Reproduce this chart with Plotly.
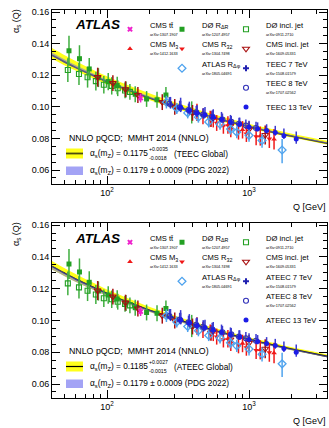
import math
import plotly.graph_objects as go

FONT = "Liberation Sans, Arial, Helvetica, sans-serif"

# ---------------- theory curves ----------------
curve_q = [41, 50, 60, 75, 91.19, 110, 140, 180, 240, 320, 450, 650, 900, 1300, 1800, 2500, 3550]
teec_fit = [0.1327, 0.1286, 0.1250, 0.1209, 0.1175, 0.1144, 0.1107, 0.1071, 0.1032, 0.0996, 0.0956, 0.0917, 0.0885, 0.0851, 0.0823, 0.0797, 0.0770]
teec_fit_hi = [0.1372, 0.1328, 0.1290, 0.1246, 0.1210, 0.1177, 0.1138, 0.1100, 0.1059, 0.1021, 0.0979, 0.0938, 0.0905, 0.0869, 0.0840, 0.0813, 0.0785]
teec_fit_lo = [0.1304, 0.1264, 0.1230, 0.1190, 0.1157, 0.1127, 0.1091, 0.1056, 0.1018, 0.0983, 0.0944, 0.0906, 0.0875, 0.0842, 0.0814, 0.0789, 0.0762]
ateec_fit = [0.1340, 0.1298, 0.1261, 0.1220, 0.1185, 0.1153, 0.1116, 0.1079, 0.1040, 0.1003, 0.0963, 0.0923, 0.0891, 0.0856, 0.0828, 0.0802, 0.0774]
ateec_fit_hi = [0.1374, 0.1330, 0.1292, 0.1249, 0.1212, 0.1179, 0.1140, 0.1101, 0.1061, 0.1022, 0.0981, 0.0939, 0.0906, 0.0870, 0.0841, 0.0814, 0.0786]
ateec_fit_lo = [0.1321, 0.1280, 0.1244, 0.1204, 0.1170, 0.1139, 0.1103, 0.1067, 0.1028, 0.0992, 0.0953, 0.0914, 0.0882, 0.0848, 0.0821, 0.0795, 0.0768]
pdg_hi = [0.1344, 0.1302, 0.1265, 0.1223, 0.1188, 0.1156, 0.1119, 0.1082, 0.1042, 0.1005, 0.0965, 0.0925, 0.0892, 0.0858, 0.0829, 0.0803, 0.0776]
pdg_lo = [0.1321, 0.1280, 0.1244, 0.1204, 0.1170, 0.1139, 0.1103, 0.1067, 0.1028, 0.0992, 0.0953, 0.0914, 0.0882, 0.0848, 0.0821, 0.0795, 0.0768]

# ---------------- measurements ----------------
cms_tt_q = [172.5]
cms_tt_a = [0.1056]
cms_tt_e = [0.0028]

cms_m3_q = [430, 560, 710, 900, 1200, 1500]
cms_m3_a = [0.0965, 0.0925, 0.0885, 0.0855, 0.0815, 0.0795]
cms_m3_e = [0.0055, 0.0055, 0.0055, 0.0055, 0.0060, 0.0065]

d0_rdr_q = [54, 64, 75, 87, 102, 118, 136, 158, 190, 225, 260, 395]
d0_rdr_a = [0.1355, 0.1305, 0.1240, 0.1185, 0.1160, 0.1135, 0.1110, 0.1080, 0.1050, 0.1045, 0.1075, 0.0965]
d0_rdr_e = [0.0095, 0.0085, 0.0070, 0.0060, 0.0055, 0.0055, 0.0050, 0.0050, 0.0050, 0.0050, 0.0050, 0.0070]

d0_incl_q = [53, 63.5, 73, 83.5, 95, 108, 119, 134, 145]
d0_incl_a = [0.1233, 0.1208, 0.1187, 0.1163, 0.1140, 0.1133, 0.1118, 0.1104, 0.1095]
d0_incl_e = [0.0075, 0.0070, 0.0065, 0.0060, 0.0055, 0.0055, 0.0050, 0.0050, 0.0050]

cms_r32_q = [474, 533, 592, 660, 744, 843, 958, 1122, 1390]
cms_r32_a = [0.0940, 0.0925, 0.0898, 0.0880, 0.0858, 0.0845, 0.0830, 0.0812, 0.0798]
cms_r32_e = [0.0050, 0.0050, 0.0050, 0.0050, 0.0050, 0.0052, 0.0052, 0.0055, 0.0058]

cms_incl_q = [86, 110, 135, 165, 245, 300, 400, 540, 740, 1000, 1300]
cms_incl_a = [0.1188, 0.1150, 0.1112, 0.1075, 0.1030, 0.1000, 0.0962, 0.0922, 0.0880, 0.0858, 0.0822]
cms_incl_e = [0.0060, 0.0050, 0.0050, 0.0050, 0.0050, 0.0050, 0.0050, 0.0050, 0.0050, 0.0050, 0.0060]

atlas_rdphi_q = [262, 310, 370, 440, 520, 625, 740, 820, 1000, 1235, 1710]
atlas_rdphi_a = [0.1030, 0.0990, 0.0962, 0.0935, 0.0905, 0.0890, 0.0860, 0.0840, 0.0820, 0.0787, 0.0727]
atlas_rdphi_eu = [0.0040, 0.0035, 0.0035, 0.0035, 0.0035, 0.0035, 0.0035, 0.0038, 0.0040, 0.0042, 0.0069]
atlas_rdphi_ed = [0.0040, 0.0035, 0.0035, 0.0035, 0.0035, 0.0035, 0.0035, 0.0038, 0.0040, 0.0045, 0.0083]

teec7_q = [280, 330, 380, 430, 480, 560]
teec7_a = [0.1015, 0.0992, 0.0978, 0.0960, 0.0948, 0.0930]
teec7_eu = [0.0048, 0.0046, 0.0045, 0.0044, 0.0043, 0.0042]
teec7_ed = [0.0026, 0.0025, 0.0025, 0.0024, 0.0024, 0.0023]

teec8_q = [275, 325, 375, 425, 475, 550, 650, 750, 850, 950, 1120]
teec8_a = [0.1020, 0.0998, 0.0980, 0.0965, 0.0952, 0.0938, 0.0920, 0.0905, 0.0893, 0.0882, 0.0866]
teec8_eu = [0.0042, 0.0041, 0.0040, 0.0040, 0.0039, 0.0039, 0.0038, 0.0038, 0.0038, 0.0038, 0.0040]
teec8_ed = [0.0022, 0.0022, 0.0021, 0.0021, 0.0020, 0.0020, 0.0020, 0.0020, 0.0020, 0.0021, 0.0022]

teec13_q = [330, 380, 430, 490, 560, 640, 740, 860, 1000, 1150, 1330, 1530, 1760, 2150]
teec13_a = [0.0998, 0.0978, 0.0962, 0.0950, 0.0937, 0.0922, 0.0905, 0.0890, 0.0873, 0.0862, 0.0850, 0.0838, 0.0818, 0.0796]
teec13_eu = [0.0060, 0.0055, 0.0050, 0.0050, 0.0048, 0.0046, 0.0044, 0.0042, 0.0040, 0.0040, 0.0040, 0.0042, 0.0045, 0.0048]
teec13_ed = [0.0025, 0.0025, 0.0022, 0.0020, 0.0020, 0.0020, 0.0020, 0.0019, 0.0018, 0.0018, 0.0018, 0.0020, 0.0022, 0.0029]

ateec7_q = [280, 330, 380, 430, 480, 560]
ateec7_a = [0.1022, 0.1000, 0.0982, 0.0968, 0.0955, 0.0935]
ateec7_eu = [0.0050, 0.0048, 0.0047, 0.0046, 0.0045, 0.0044]
ateec7_ed = [0.0026, 0.0025, 0.0025, 0.0024, 0.0024, 0.0023]

ateec8_q = [275, 325, 375, 425, 475, 550, 650, 750, 850, 950, 1120]
ateec8_a = [0.1028, 0.1005, 0.0988, 0.0972, 0.0960, 0.0944, 0.0926, 0.0912, 0.0898, 0.0888, 0.0872]
ateec8_eu = [0.0044, 0.0043, 0.0042, 0.0042, 0.0041, 0.0041, 0.0040, 0.0040, 0.0040, 0.0040, 0.0042]
ateec8_ed = [0.0022, 0.0022, 0.0021, 0.0021, 0.0020, 0.0020, 0.0020, 0.0020, 0.0020, 0.0021, 0.0022]

ateec13_q = [330, 380, 430, 490, 560, 640, 740, 860, 1000, 1150, 1330, 1530, 1760, 2150]
ateec13_a = [0.1005, 0.0985, 0.0968, 0.0955, 0.0942, 0.0928, 0.0912, 0.0896, 0.0880, 0.0868, 0.0855, 0.0842, 0.0823, 0.0800]
ateec13_eu = [0.0060, 0.0055, 0.0050, 0.0050, 0.0048, 0.0046, 0.0044, 0.0042, 0.0040, 0.0040, 0.0040, 0.0042, 0.0045, 0.0048]
ateec13_ed = [0.0025, 0.0025, 0.0022, 0.0020, 0.0020, 0.0020, 0.0020, 0.0019, 0.0018, 0.0018, 0.0018, 0.0020, 0.0022, 0.0029]

# ---------------- axis ticks ----------------
x_major = [100, 1000]
x_major_text = ["10<sup>2</sup>", "10<sup>3</sup>"]
x_minor = [50, 60, 70, 80, 90, 200, 300, 400, 500, 600, 700, 800, 900, 2000, 3000]
q_range = [41, 3540]
a_range = [0.0512, 0.1613]

# ---------------- layout helpers (pixel -> paper) ----------------
W, H = 329, 428
ML, MR, MT, MB = 52, 2, 10, 30
PW, PH = W - ML - MR, H - MT - MB


def px(x):
    return (x - ML) / PW


def py(y):
    return (H - MB - y) / PH


TOP0, TOP1 = 10, 184      # top panel frame (pixels)
BOT0, BOT1 = 223, 398     # bottom panel frame (pixels)

fig = go.Figure()


def band(xa, ya, lo, hi, color):
    fig.add_trace(go.Scatter(x=curve_q, y=lo, mode="lines", line=dict(width=0, color=color, shape="spline"),
                             xaxis=xa, yaxis=ya, showlegend=False, hoverinfo="skip"))
    fig.add_trace(go.Scatter(x=curve_q, y=hi, mode="lines", line=dict(width=0, color=color, shape="spline"),
                             fill="tonexty", fillcolor=color, xaxis=xa, yaxis=ya, showlegend=False,
                             hoverinfo="skip"))


def series(q, a, eu, ed, name, sym, color, ecolor, size, xa, ya, leg, lw=0):
    fig.add_trace(go.Scatter(
        x=q, y=a, mode="markers", name=name, legend=leg, xaxis=xa, yaxis=ya,
        marker=dict(symbol=sym, size=size, color=color, line=dict(width=lw, color=color)),
        error_y=dict(type="data", array=eu, arrayminus=ed, symmetric=False, color=ecolor,
                     thickness=1.5, width=0)))


def lname(title, arxiv=None):
    s = "<span style='font-size:7.6px'>" + title + "</span>"
    if arxiv:
        s += "<br><span style='font-size:3.8px'>arXiv:" + arxiv + "</span>"
    return s


GREEN = "#23a023"
GREEN_E = "#3fae3f"
RED = "#f01818"
DRED = "#a81010"
MAG = "#ee22cc"
LBLUE = "#4fa3ee"
BLUE7 = "#2020b0"
BLUE8 = "#3030b8"
BLUE13 = "#1c1ce6"
BLUE_E = "#3a3ad0"

panels = [
    dict(xa="x", ya="y", fit=teec_fit, hi=teec_fit_hi, lo=teec_fit_lo, line="#3c3c10",
         legs=("legend", "legend2", "legend3"), tag="TEEC",
         e7=(teec7_q, teec7_a, teec7_eu, teec7_ed), e8=(teec8_q, teec8_a, teec8_eu, teec8_ed),
         e13=(teec13_q, teec13_a, teec13_eu, teec13_ed)),
    dict(xa="x2", ya="y2", fit=ateec_fit, hi=ateec_fit_hi, lo=ateec_fit_lo, line="#101010",
         legs=("legend4", "legend5", "legend6"), tag="ATEEC",
         e7=(ateec7_q, ateec7_a, ateec7_eu, ateec7_ed), e8=(ateec8_q, ateec8_a, ateec8_eu, ateec8_ed),
         e13=(ateec13_q, ateec13_a, ateec13_eu, ateec13_ed)),
]

for p in panels:
    xa, ya = p["xa"], p["ya"]
    l1, l2, l3 = p["legs"]
    band(xa, ya, p["lo"], p["hi"], "#ffff1a")
    fig.add_trace(go.Scatter(x=curve_q, y=p["fit"], mode="lines", line=dict(width=1.6, color=p["line"], shape="spline"),
                             xaxis=xa, yaxis=ya, showlegend=False, hoverinfo="skip"))
    band(xa, ya, pdg_lo, pdg_hi, "rgba(110,110,235,0.55)")

    series(d0_incl_q, d0_incl_a, d0_incl_e, d0_incl_e, lname("D\u00d8 incl. jet", "0911.2710"),
           "square-open", GREEN, GREEN_E, 5, xa, ya, l3, lw=1.1)
    series(d0_rdr_q, d0_rdr_a, d0_rdr_e, d0_rdr_e, lname("D\u00d8 R<sub>\u0394R</sub>", "1207.4957"),
           "square", GREEN, GREEN_E, 5, xa, ya, l2)
    series(cms_incl_q, cms_incl_a, cms_incl_e, cms_incl_e, lname("CMS incl. jet", "1609.05331"),
           "triangle-down-open", DRED, DRED, 6, xa, ya, l3, lw=1.1)
    series(cms_r32_q, cms_r32_a, cms_r32_e, cms_r32_e, lname("CMS R<sub>32</sub>", "1304.7498"),
           "triangle-down", RED, RED, 5, xa, ya, l2)
    series(cms_tt_q, cms_tt_a, cms_tt_e, cms_tt_e, lname("CMS tt\u0304", "1307.1907"),
           "x", MAG, MAG, 5, xa, ya, l1)
    series(cms_m3_q, cms_m3_a, cms_m3_e, cms_m3_e, lname("CMS M<sub>3</sub>", "1412.1633"),
           "triangle-up", RED, RED, 5, xa, ya, l1)
    series(atlas_rdphi_q, atlas_rdphi_a, atlas_rdphi_eu, atlas_rdphi_ed,
           lname("ATLAS R<sub>\u0394\u03c6</sub>", "1805.04691"),
           "diamond-open", LBLUE, LBLUE, 6, xa, ya, l2, lw=1.3)
    q, a, eu, ed = p["e7"]
    series(q, a, eu, ed, lname(p["tag"] + " 7 TeV", "1508.01579"), "cross", BLUE7, BLUE_E, 5, xa, ya, l3)
    q, a, eu, ed = p["e8"]
    series(q, a, eu, ed, lname(p["tag"] + " 8 TeV", "1707.02562"), "circle-open", BLUE8, BLUE_E, 5, xa, ya, l3,
           lw=1.1)
    q, a, eu, ed = p["e13"]
    series(q, a, eu, ed, lname(p["tag"] + " 13 TeV"), "circle", BLUE13, BLUE_E, 5, xa, ya, l3)


def xaxis_cfg(anchor):
    return dict(type="log", range=[math.log10(q_range[0]), math.log10(q_range[1])], domain=[0, 1],
                anchor=anchor, ticks="inside", ticklen=8, tickwidth=1, tickcolor="black",
                showline=True, linecolor="black", linewidth=1, mirror="allticks",
                tickmode="array", tickvals=x_major, ticktext=x_major_text,
                tickfont=dict(family=FONT, size=9, color="black"), showgrid=False, zeroline=False,
                minor=dict(ticks="inside", ticklen=4, tickcolor="black", tickmode="array", tickvals=x_minor,
                           showgrid=False))


def yaxis_cfg(anchor, dom):
    return dict(range=a_range, domain=dom, anchor=anchor, ticks="inside", ticklen=8, tickwidth=1,
                tickcolor="black", showline=True, linecolor="black", linewidth=1, mirror="allticks",
                tick0=0, dtick=0.02, tickformat=".2f", tickfont=dict(family=FONT, size=9, color="black"),
                showgrid=False, zeroline=False,
                minor=dict(ticks="inside", ticklen=4, tickcolor="black", dtick=0.005, showgrid=False))


def legend_cfg(left_px, top_px):
    return dict(x=px(left_px), y=py(top_px), xanchor="left", yanchor="top", bgcolor="rgba(0,0,0,0)",
                borderwidth=0, font=dict(family=FONT, size=6.35, color="black"), itemwidth=30,
                traceorder="normal", tracegroupgap=0, itemclick=False, itemdoubleclick=False)


annotations = []
shapes = []
for i, (top, bot, tag, cen, up, dn, lcol) in enumerate([
        (TOP0, TOP1, "TEEC", "0.1175", "+0.0035", "-0.0018", "#4a4a10"),
        (BOT0, BOT1, "ATEEC", "0.1185", "+0.0027", "-0.0015", "#000000")]):
    def A(x, y, text, size=8.3, anchor="left", **kw):
        d = dict(x=px(x), y=py(top + y), xref="paper", yref="paper", text=text, showarrow=False,
                 xanchor=anchor, yanchor="middle", font=dict(family=FONT, size=size, color="black"))
        d.update(kw)
        annotations.append(d)
    A(73, 15, "<b><i>ATLAS</i></b>", size=13.5)
    A(67, 128, "NNLO pQCD;  MMHT 2014 (NNLO)", size=8.8)
    A(88, 143.5, "\u03b1<sub>s</sub>(m<sub>Z</sub>) = " + cen)
    A(147, 139.3, up, size=5.2)
    A(147, 148, dn, size=5.2)
    A(172, 143.5, "(" + tag + " Global)")
    A(88, 160.5, "\u03b1<sub>s</sub>(m<sub>Z</sub>) = 0.1179 \u00b1 0.0009 (PDG 2022)")
    # axis titles
    annotations.append(dict(x=px(16), y=py(top - 3), xref="paper", yref="paper", text="\u03b1<sub>s</sub> (Q)",
                            textangle=-90, showarrow=False, xanchor="center", yanchor="top",
                            font=dict(family=FONT, size=9, color="black")))
    annotations.append(dict(x=px(328), y=py(bot + 23), xref="paper", yref="paper", text="Q [GeV]",
                            showarrow=False, xanchor="right", yanchor="middle",
                            font=dict(family=FONT, size=9, color="black")))
    # key boxes
    shapes.append(dict(type="rect", xref="paper", yref="paper", x0=px(66), x1=px(83), y0=py(top + 148.5),
                       y1=py(top + 138.5), fillcolor="#ffff1a", line=dict(width=0)))
    shapes.append(dict(type="line", xref="paper", yref="paper", x0=px(66), x1=px(83), y0=py(top + 143.5),
                       y1=py(top + 143.5), line=dict(width=1.8 if i == 0 else 1.2, color=lcol)))
    shapes.append(dict(type="rect", xref="paper", yref="paper", x0=px(66), x1=px(83), y0=py(top + 165),
                       y1=py(top + 156.5), fillcolor="#a3a3f5", line=dict(width=0)))

LEG_TOP = 14.5
fig.update_layout(
    width=W, height=H, margin=dict(l=ML, r=MR, t=MT, b=MB, pad=0),
    paper_bgcolor="white", plot_bgcolor="white",
    font=dict(family=FONT, size=9, color="black"),
    xaxis=xaxis_cfg("y"), yaxis=yaxis_cfg("x", [py(TOP1), py(TOP0)]),
    xaxis2=xaxis_cfg("y2"), yaxis2=yaxis_cfg("x2", [py(BOT1), py(BOT0)]),
    legend=legend_cfg(110, TOP0 + LEG_TOP - 10), legend2=legend_cfg(162, TOP0 + LEG_TOP - 10),
    legend3=legend_cfg(226, TOP0 + LEG_TOP - 10),
    legend4=legend_cfg(110, BOT0 + LEG_TOP - 10), legend5=legend_cfg(162, BOT0 + LEG_TOP - 10),
    legend6=legend_cfg(226, BOT0 + LEG_TOP - 10),
    annotations=annotations, shapes=shapes, showlegend=True,
)

fig.write_html("out.html")
